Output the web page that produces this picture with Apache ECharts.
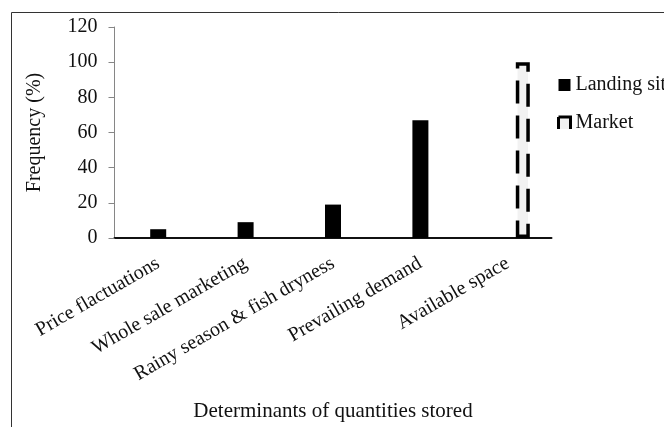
<!DOCTYPE html>
<html>
<head>
<meta charset="utf-8">
<script src="https://cdn.jsdelivr.net/npm/echarts@6/dist/echarts.min.js"></script>
<style>
html,body{margin:0;padding:0;background:#fff;}
#c{width:664px;height:427px;}
</style>
</head>
<body>
<div id="c"></div>
<script>
var categories = ['Price flactuations','Whole sale marketing','Rainy season & fish dryness','Prevailing demand','Available space'];
var landingSite = [5, 9, 19, 67, '-'];
var market = ['-', '-', '-', '-', 100];
var yTicks = [0, 20, 40, 60, 80, 100, 120];

var FONT = '"Liberation Serif", "Times New Roman", serif';
var chart = echarts.init(document.getElementById('c'), null, {renderer:'canvas'});
chart.setOption({
  animation: false,
  backgroundColor: '#fff',
  textStyle: {fontFamily: FONT, color: '#111'},
  graphic: [{
    type: 'rect', silent: true,
    shape: {x: 11.5, y: 12.5, width: 720, height: 500},
    style: {fill: 'none', stroke: '#333', lineWidth: 1}
  }],
  grid: {left: 114.5, right: 112.5, top: 27, bottom: 183, containLabel: false},
  legend: {
    orient: 'vertical', left: 552, top: 70,
    itemWidth: 12, itemHeight: 12, itemGap: 18,
    textStyle: {fontFamily: FONT, fontSize: 20, color: '#111'},
    data: [
      {name: 'Landing site', icon: 'rect'},
      {name: 'Market', icon: 'rect', itemStyle: {color: '#f2f2f2', borderColor: '#000', borderWidth: 3, borderType: [24, 12, 12, 0]}}
    ]
  },
  xAxis: {
    type: 'category', data: categories,
    axisLine: {lineStyle: {color: '#111', width: 2}},
    axisTick: {show: false},
    axisLabel: {rotate: 30, margin: 24, fontFamily: FONT, fontSize: 20, color: '#111', interval: 0},
    name: 'Determinants of quantities stored', nameLocation: 'middle', nameGap: 163,
    nameTextStyle: {fontFamily: FONT, fontSize: 21, color: '#111'}
  },
  yAxis: {
    type: 'value', min: yTicks[0], max: yTicks[yTicks.length-1], interval: yTicks[1]-yTicks[0],
    axisLine: {show: true, lineStyle: {color: '#868686', width: 1}},
    axisTick: {show: true, length: 6, lineStyle: {color: '#868686'}},
    splitLine: {show: false},
    axisLabel: {margin: 17, fontFamily: FONT, fontSize: 20, color: '#111'},
    name: 'Frequency (%)', nameLocation: 'middle', nameGap: 70, nameRotate: 90,
    nameTextStyle: {fontFamily: FONT, fontSize: 20, color: '#111'}
  },
  series: [
    {name: 'spacer', type: 'bar', barWidth: 14, barGap: '0%', data: [], silent: true},
    {name: 'Landing site', type: 'bar', barWidth: 16, barGap: '0%', data: landingSite,
     itemStyle: {color: '#000'}},
    {name: 'Market', type: 'bar', barWidth: 14, barGap: '0%', data: market,
     itemStyle: {color: '#f2f2f2', borderColor: '#000', borderWidth: 3.5, borderType: [23, 12]}}
  ]
});
</script>
</body>
</html>
